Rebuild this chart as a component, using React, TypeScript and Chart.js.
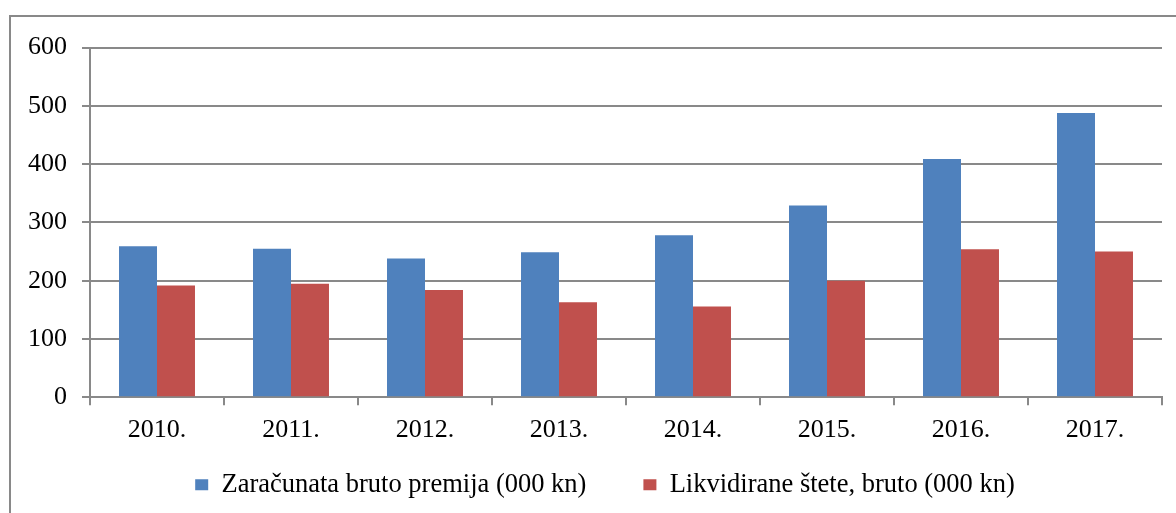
import React, { useEffect, useRef } from "react";
import { Chart, registerables } from "chart.js";

Chart.register(...registerables);

const categories = ["2010.", "2011.", "2012.", "2013.", "2014.", "2015.", "2016.", "2017."];
const premiumValues = [259, 255, 238, 249, 278, 329, 409, 488];
const claimsValues = [192, 195, 184, 163, 156, 200, 254, 250];
const seriesNames = ["Zaračunata bruto premija (000 kn)", "Likvidirane štete, bruto (000 kn)"];
const yTicks = [0, 100, 200, 300, 400, 500, 600];

const GRID = "#898989";
const FONT = "'Liberation Serif', 'Times New Roman', serif";
const LEGEND_SHIFT = 40;

const legendShift = {
  id: "legendShift",
  afterLayout(chart: any) {
    const l = chart.legend;
    if (l) {
      l.top -= LEGEND_SHIFT;
      l.bottom -= LEGEND_SHIFT;
    }
  },
};

export default function App() {
  const ref = useRef<HTMLCanvasElement | null>(null);

  useEffect(() => {
    if (!ref.current) return;
    const chart = new Chart(ref.current, {
      type: "bar",
      data: {
        labels: categories,
        datasets: [
          { label: seriesNames[0], data: premiumValues, backgroundColor: "#4F81BD", borderWidth: 0, yAxisID: "y" },
          { label: seriesNames[1], data: claimsValues, backgroundColor: "#C0504D", borderWidth: 0, yAxisID: "y" },
        ],
      },
      plugins: [legendShift],
      options: {
        responsive: false,
        animation: false,
        devicePixelRatio: 1,
        datasets: { bar: { barPercentage: 1, categoryPercentage: 0.567 } },
        layout: { padding: { top: 26, right: 0, bottom: 0, left: 0 } },
        plugins: {
          tooltip: { enabled: false },
          title: { display: false },
          legend: {
            position: "bottom",
            labels: {
              boxWidth: 13,
              boxHeight: 11,
              padding: 57,
              color: "#000",
              font: { family: FONT, size: 26.5 },
            },
          },
        },
        scales: {
          x: {
            grid: {
              offset: true,
              drawOnChartArea: false,
              drawTicks: true,
              tickLength: 8,
              color: GRID,
              lineWidth: 2,
            },
            border: { display: true, color: GRID, width: 2 },
            ticks: { color: "#000", font: { family: FONT, size: 26 }, padding: 9, maxRotation: 0 },
          },
          y: {
            min: 0,
            max: 600,
            afterBuildTicks: (scale: any) => {
              scale.ticks = yTicks.map((v) => ({ value: v }));
            },
            grid: { color: GRID, lineWidth: 2, tickLength: 8, drawTicks: true },
            border: { display: true, color: GRID, width: 2 },
            ticks: { color: "#000", font: { family: FONT, size: 26 }, padding: 15 },
            afterFit: (scale: any) => {
              scale.width = 79;
            },
          },
          yRight: {
            position: "right",
            display: true,
            grid: { display: false, drawTicks: false },
            border: { display: false },
            ticks: { display: false },
            afterFit: (scale: any) => {
              scale.width = 37;
            },
          },
        },
      },
    });
    return () => chart.destroy();
  }, []);

  return (
    <div
      style={{
        position: "fixed",
        left: 9,
        top: 15,
        width: 1188,
        height: 545,
        border: `2px solid ${GRID}`,
        background: "#fff",
      }}
    >
      <canvas ref={ref} width={1188} height={531} style={{ display: "block" }} />
    </div>
  );
}
